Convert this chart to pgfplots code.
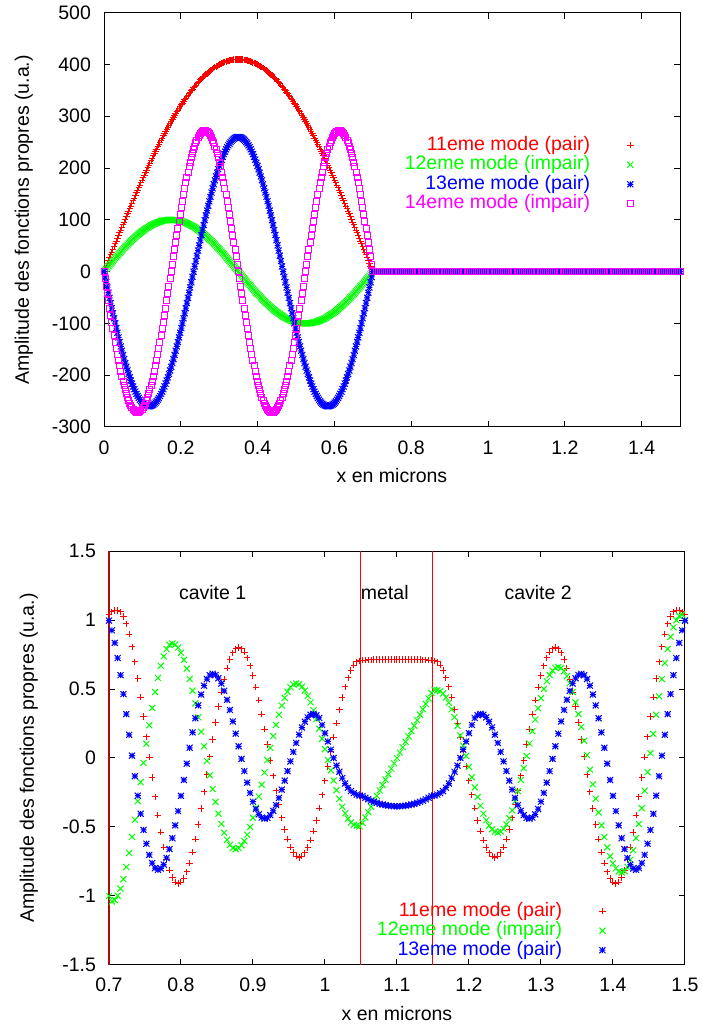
\documentclass[border=0pt]{standalone}
\usepackage{fontspec}
\setmainfont{Liberation Sans}
\usepackage{pgfplots}
\usepackage{pgfplotstable}
\pgfplotsset{compat=1.18}

\definecolor{gpred}{rgb}{1,0,0}
\definecolor{gpgreen}{rgb}{0,1,0}
\definecolor{gpblue}{rgb}{0,0,1}
\definecolor{gpmag}{rgb}{1,0,1}
\definecolor{darkline}{rgb}{0.65,0.05,0.05}

\makeatletter
\def\gpstroke#1{%
  \pgfsyssoftpath@invokecurrentpath
  \pgfsys@invoke{ #1 RG #1 rg S }%
  \pgfsyssoftpath@setcurrentpath\pgfutil@empty}
\pgfdeclareplotmark{rplus}{%
  \pgfpathmoveto{\pgfqpoint{-\pgfplotmarksize}{0pt}}\pgfpathlineto{\pgfqpoint{\pgfplotmarksize}{0pt}}%
  \pgfpathmoveto{\pgfqpoint{0pt}{-\pgfplotmarksize}}\pgfpathlineto{\pgfqpoint{0pt}{\pgfplotmarksize}}%
  \gpstroke{1 0 0}}
\pgfdeclareplotmark{gcross}{%
  \pgfpathmoveto{\pgfqpoint{-\pgfplotmarksize}{-\pgfplotmarksize}}\pgfpathlineto{\pgfqpoint{\pgfplotmarksize}{\pgfplotmarksize}}%
  \pgfpathmoveto{\pgfqpoint{-\pgfplotmarksize}{\pgfplotmarksize}}\pgfpathlineto{\pgfqpoint{\pgfplotmarksize}{-\pgfplotmarksize}}%
  \gpstroke{0 1 0}}
\pgfdeclareplotmark{bstar}{%
  \pgfpathmoveto{\pgfqpoint{-\pgfplotmarksize}{0pt}}\pgfpathlineto{\pgfqpoint{\pgfplotmarksize}{0pt}}%
  \pgfpathmoveto{\pgfqpoint{0pt}{-\pgfplotmarksize}}\pgfpathlineto{\pgfqpoint{0pt}{\pgfplotmarksize}}%
  \pgfpathmoveto{\pgfqpoint{-\pgfplotmarksize}{-\pgfplotmarksize}}\pgfpathlineto{\pgfqpoint{\pgfplotmarksize}{\pgfplotmarksize}}%
  \pgfpathmoveto{\pgfqpoint{-\pgfplotmarksize}{\pgfplotmarksize}}\pgfpathlineto{\pgfqpoint{\pgfplotmarksize}{-\pgfplotmarksize}}%
  \gpstroke{0 0 1}}
\pgfdeclareplotmark{msquare}{%
  \pgfpathrectangle{\pgfqpoint{-\pgfplotmarksize}{-\pgfplotmarksize}}{\pgfqpoint{2\pgfplotmarksize}{2\pgfplotmarksize}}%
  \gpstroke{1 0 1}}
\makeatother

\pgfplotstableread{
x r g b m
0 0 0 0 0
0.0058 10.7 5.2 -20.4 -28.4
0.0117 21.5 10.5 -40.7 -56.6
0.0175 32.2 15.6 -60.7 -84.1
0.0233 42.9 20.8 -80.3 -110.6
0.0292 53.5 25.9 -99.5 -136.0
0.035 64.1 30.9 -118.0 -159.9
0.0408 74.7 35.8 -135.9 -182.0
0.0467 85.2 40.7 -152.8 -202.1
0.0525 95.7 45.4 -168.9 -220.1
0.0583 106.1 50.0 -183.8 -235.6
0.0642 116.4 54.5 -197.7 -248.5
0.07 126.7 58.8 -210.3 -258.7
0.0758 136.9 62.9 -221.7 -266.1
0.0817 146.9 66.9 -231.7 -270.5
0.0875 156.9 70.7 -240.2 -272.0
0.0933 166.8 74.3 -247.3 -270.5
0.0992 176.5 77.7 -252.8 -266.1
0.105 186.1 80.9 -256.8 -258.7
0.1108 195.6 83.9 -259.2 -248.5
0.1167 205.0 86.6 -260.0 -235.6
0.1225 214.2 89.1 -259.2 -220.1
0.1283 223.3 91.4 -256.8 -202.1
0.1342 232.2 93.4 -252.8 -182.0
0.14 241.0 95.1 -247.3 -159.9
0.1458 249.6 96.6 -240.2 -136.0
0.1517 258.0 97.8 -231.7 -110.6
0.1575 266.3 98.8 -221.7 -84.1
0.1633 274.3 99.5 -210.3 -56.6
0.1692 282.2 99.9 -197.7 -28.4
0.175 289.9 100.0 -183.8 0
0.1808 297.4 99.9 -168.9 28.4
0.1867 304.7 99.5 -152.8 56.6
0.1925 311.8 98.8 -135.9 84.1
0.1983 318.6 97.8 -118.0 110.6
0.2042 325.3 96.6 -99.5 136.0
0.21 331.7 95.1 -80.3 159.9
0.2158 337.9 93.4 -60.7 182.0
0.2217 343.9 91.4 -40.7 202.1
0.2275 349.6 89.1 -20.4 220.1
0.2333 355.1 86.6 0 235.6
0.2392 360.3 83.9 20.4 248.5
0.245 365.3 80.9 40.7 258.7
0.2508 370.1 77.7 60.7 266.1
0.2567 374.6 74.3 80.3 270.5
0.2625 378.8 70.7 99.5 272.0
0.2683 382.8 66.9 118.0 270.5
0.2742 386.5 62.9 135.9 266.1
0.28 389.9 58.8 152.8 258.7
0.2858 393.1 54.5 168.9 248.5
0.2917 396.0 50.0 183.8 235.6
0.2975 398.7 45.4 197.7 220.1
0.3033 401.0 40.7 210.3 202.1
0.3092 403.1 35.8 221.7 182.0
0.315 405.0 30.9 231.7 159.9
0.3208 406.5 25.9 240.2 136.0
0.3267 407.8 20.8 247.3 110.6
0.3325 408.7 15.6 252.8 84.1
0.3383 409.4 10.5 256.8 56.6
0.3442 409.9 5.2 259.2 28.4
0.35 410.0 0 260.0 0
0.3558 409.9 -5.2 259.2 -28.4
0.3617 409.4 -10.5 256.8 -56.6
0.3675 408.7 -15.6 252.8 -84.1
0.3733 407.8 -20.8 247.3 -110.6
0.3792 406.5 -25.9 240.2 -136.0
0.385 405.0 -30.9 231.7 -159.9
0.3908 403.1 -35.8 221.7 -182.0
0.3967 401.0 -40.7 210.3 -202.1
0.4025 398.7 -45.4 197.7 -220.1
0.4083 396.0 -50.0 183.8 -235.6
0.4142 393.1 -54.5 168.9 -248.5
0.42 389.9 -58.8 152.8 -258.7
0.4258 386.5 -62.9 135.9 -266.1
0.4317 382.8 -66.9 118.0 -270.5
0.4375 378.8 -70.7 99.5 -272.0
0.4433 374.6 -74.3 80.3 -270.5
0.4492 370.1 -77.7 60.7 -266.1
0.455 365.3 -80.9 40.7 -258.7
0.4608 360.3 -83.9 20.4 -248.5
0.4667 355.1 -86.6 0 -235.6
0.4725 349.6 -89.1 -20.4 -220.1
0.4783 343.9 -91.4 -40.7 -202.1
0.4842 337.9 -93.4 -60.7 -182.0
0.49 331.7 -95.1 -80.3 -159.9
0.4958 325.3 -96.6 -99.5 -136.0
0.5017 318.6 -97.8 -118.0 -110.6
0.5075 311.8 -98.8 -135.9 -84.1
0.5133 304.7 -99.5 -152.8 -56.6
0.5192 297.4 -99.9 -168.9 -28.4
0.525 289.9 -100.0 -183.8 0
0.5308 282.2 -99.9 -197.7 28.4
0.5367 274.3 -99.5 -210.3 56.6
0.5425 266.3 -98.8 -221.7 84.1
0.5483 258.0 -97.8 -231.7 110.6
0.5542 249.6 -96.6 -240.2 136.0
0.56 241.0 -95.1 -247.3 159.9
0.5658 232.2 -93.4 -252.8 182.0
0.5717 223.3 -91.4 -256.8 202.1
0.5775 214.2 -89.1 -259.2 220.1
0.5833 205.0 -86.6 -260.0 235.6
0.5892 195.6 -83.9 -259.2 248.5
0.595 186.1 -80.9 -256.8 258.7
0.6008 176.5 -77.7 -252.8 266.1
0.6067 166.8 -74.3 -247.3 270.5
0.6125 156.9 -70.7 -240.2 272.0
0.6183 146.9 -66.9 -231.7 270.5
0.6242 136.9 -62.9 -221.7 266.1
0.63 126.7 -58.8 -210.3 258.7
0.6358 116.4 -54.5 -197.7 248.5
0.6417 106.1 -50.0 -183.8 235.6
0.6475 95.7 -45.4 -168.9 220.1
0.6533 85.2 -40.7 -152.8 202.1
0.6592 74.7 -35.8 -135.9 182.0
0.665 64.1 -30.9 -118.0 159.9
0.6708 53.5 -25.9 -99.5 136.0
0.6767 42.9 -20.8 -80.3 110.6
0.6825 32.2 -15.6 -60.7 84.1
0.6883 21.5 -10.5 -40.7 56.6
0.6942 10.7 -5.2 -20.4 28.4
0.7 0 0 0 0
0.71 0 0 0 0
0.72 0 0 0 0
0.73 0 0 0 0
0.74 0 0 0 0
0.75 0 0 0 0
0.76 0 0 0 0
0.77 0 0 0 0
0.78 0 0 0 0
0.79 0 0 0 0
0.80 0 0 0 0
0.81 0 0 0 0
0.82 0 0 0 0
0.83 0 0 0 0
0.84 0 0 0 0
0.85 0 0 0 0
0.86 0 0 0 0
0.87 0 0 0 0
0.88 0 0 0 0
0.89 0 0 0 0
0.90 0 0 0 0
0.91 0 0 0 0
0.92 0 0 0 0
0.93 0 0 0 0
0.94 0 0 0 0
0.95 0 0 0 0
0.96 0 0 0 0
0.97 0 0 0 0
0.98 0 0 0 0
0.99 0 0 0 0
1.00 0 0 0 0
1.01 0 0 0 0
1.02 0 0 0 0
1.03 0 0 0 0
1.04 0 0 0 0
1.05 0 0 0 0
1.06 0 0 0 0
1.07 0 0 0 0
1.08 0 0 0 0
1.09 0 0 0 0
1.10 0 0 0 0
1.11 0 0 0 0
1.12 0 0 0 0
1.13 0 0 0 0
1.14 0 0 0 0
1.15 0 0 0 0
1.16 0 0 0 0
1.17 0 0 0 0
1.18 0 0 0 0
1.19 0 0 0 0
1.20 0 0 0 0
1.21 0 0 0 0
1.22 0 0 0 0
1.23 0 0 0 0
1.24 0 0 0 0
1.25 0 0 0 0
1.26 0 0 0 0
1.27 0 0 0 0
1.28 0 0 0 0
1.29 0 0 0 0
1.30 0 0 0 0
1.31 0 0 0 0
1.32 0 0 0 0
1.33 0 0 0 0
1.34 0 0 0 0
1.35 0 0 0 0
1.36 0 0 0 0
1.37 0 0 0 0
1.38 0 0 0 0
1.39 0 0 0 0
1.40 0 0 0 0
1.41 0 0 0 0
1.42 0 0 0 0
1.43 0 0 0 0
1.44 0 0 0 0
1.45 0 0 0 0
1.46 0 0 0 0
1.47 0 0 0 0
1.48 0 0 0 0
1.49 0 0 0 0
1.50 0 0 0 0
}\topdata

\pgfplotstableread{
x r g b m
0.0029 5.4 2.6 -10.2 -14.2
0.0088 16.1 7.8 -30.6 -42.5
0.0146 26.8 13.1 -50.7 -70.4
0.0204 37.5 18.2 -70.6 -97.5
0.0263 48.2 23.3 -90.0 -123.5
0.0321 58.8 28.4 -108.9 -148.1
0.0379 69.4 33.4 -127.0 -171.2
0.0438 80.0 38.3 -144.4 -192.3
0.0496 90.5 43.1 -161.0 -211.4
0.0554 100.9 47.7 -176.5 -228.1
0.0613 111.3 52.3 -190.9 -242.4
0.0671 121.6 56.6 -204.2 -253.9
0.0729 131.8 60.9 -216.2 -262.7
0.0788 141.9 64.9 -226.9 -268.7
0.0846 151.9 68.8 -236.1 -271.6
0.0904 161.8 72.5 -243.9 -271.6
0.0963 171.7 76.0 -250.2 -268.7
0.1021 181.3 79.3 -255.0 -262.7
0.1079 190.9 82.4 -258.2 -253.9
0.1138 200.3 85.3 -259.8 -242.4
0.1196 209.6 87.9 -259.8 -228.1
0.1254 218.8 90.3 -258.2 -211.4
0.1313 227.8 92.4 -255.0 -192.3
0.1371 236.6 94.3 -250.2 -171.2
0.1429 245.3 95.9 -243.9 -148.1
0.1488 253.8 97.2 -236.1 -123.5
0.1546 262.2 98.3 -226.9 -97.5
0.1604 270.3 99.1 -216.2 -70.4
0.1663 278.3 99.7 -204.2 -42.5
0.1721 286.1 100.0 -190.9 -14.2
0.1779 293.7 100.0 -176.5 14.2
0.1838 301.1 99.7 -161.0 42.5
0.1896 308.3 99.1 -144.4 70.4
0.1954 315.2 98.3 -127.0 97.5
0.2013 322.0 97.2 -108.9 123.5
0.2071 328.5 95.9 -90.0 148.1
0.2129 334.8 94.3 -70.6 171.2
0.2188 340.9 92.4 -50.7 192.3
0.2246 346.7 90.3 -30.6 211.4
0.2304 352.4 87.9 -10.2 228.1
0.2363 357.7 85.3 10.2 242.4
0.2421 362.8 82.4 30.6 253.9
0.2479 367.7 79.3 50.7 262.7
0.2538 372.3 76.0 70.6 268.7
0.2596 376.7 72.5 90.0 271.6
0.2654 380.8 68.8 108.9 271.6
0.2713 384.7 64.9 127.0 268.7
0.2771 388.2 60.9 144.4 262.7
0.2829 391.6 56.6 161.0 253.9
0.2888 394.6 52.3 176.5 242.4
0.2946 397.4 47.7 190.9 228.1
0.3004 399.9 43.1 204.2 211.4
0.3063 402.1 38.3 216.2 192.3
0.3121 404.1 33.4 226.9 171.2
0.3179 405.8 28.4 236.1 148.1
0.3238 407.2 23.3 243.9 123.5
0.3296 408.3 18.2 250.2 97.5
0.3354 409.1 13.1 255.0 70.4
0.3413 409.7 7.8 258.2 42.5
0.3471 410.0 2.6 259.8 14.2
0.3529 410.0 -2.6 259.8 -14.2
0.3588 409.7 -7.8 258.2 -42.5
0.3646 409.1 -13.1 255.0 -70.4
0.3704 408.3 -18.2 250.2 -97.5
0.3763 407.2 -23.3 243.9 -123.5
0.3821 405.8 -28.4 236.1 -148.1
0.3879 404.1 -33.4 226.9 -171.2
0.3938 402.1 -38.3 216.2 -192.3
0.3996 399.9 -43.1 204.2 -211.4
0.4054 397.4 -47.7 190.9 -228.1
0.4113 394.6 -52.3 176.5 -242.4
0.4171 391.6 -56.6 161.0 -253.9
0.4229 388.2 -60.9 144.4 -262.7
0.4288 384.7 -64.9 127.0 -268.7
0.4346 380.8 -68.8 108.9 -271.6
0.4404 376.7 -72.5 90.0 -271.6
0.4463 372.3 -76.0 70.6 -268.7
0.4521 367.7 -79.3 50.7 -262.7
0.4579 362.8 -82.4 30.6 -253.9
0.4638 357.7 -85.3 10.2 -242.4
0.4696 352.4 -87.9 -10.2 -228.1
0.4754 346.7 -90.3 -30.6 -211.4
0.4813 340.9 -92.4 -50.7 -192.3
0.4871 334.8 -94.3 -70.6 -171.2
0.4929 328.5 -95.9 -90.0 -148.1
0.4988 322.0 -97.2 -108.9 -123.5
0.5046 315.2 -98.3 -127.0 -97.5
0.5104 308.3 -99.1 -144.4 -70.4
0.5163 301.1 -99.7 -161.0 -42.5
0.5221 293.7 -100.0 -176.5 -14.2
0.5279 286.1 -100.0 -190.9 14.2
0.5338 278.3 -99.7 -204.2 42.5
0.5396 270.3 -99.1 -216.2 70.4
0.5454 262.2 -98.3 -226.9 97.5
0.5513 253.8 -97.2 -236.1 123.5
0.5571 245.3 -95.9 -243.9 148.1
0.5629 236.6 -94.3 -250.2 171.2
0.5688 227.8 -92.4 -255.0 192.3
0.5746 218.8 -90.3 -258.2 211.4
0.5804 209.6 -87.9 -259.8 228.1
0.5863 200.3 -85.3 -259.8 242.4
0.5921 190.9 -82.4 -258.2 253.9
0.5979 181.3 -79.3 -255.0 262.7
0.6038 171.7 -76.0 -250.2 268.7
0.6096 161.8 -72.5 -243.9 271.6
0.6154 151.9 -68.8 -236.1 271.6
0.6213 141.9 -64.9 -226.9 268.7
0.6271 131.8 -60.9 -216.2 262.7
0.6329 121.6 -56.6 -204.2 253.9
0.6388 111.3 -52.3 -190.9 242.4
0.6446 100.9 -47.7 -176.5 228.1
0.6504 90.5 -43.1 -161.0 211.4
0.6563 80.0 -38.3 -144.4 192.3
0.6621 69.4 -33.4 -127.0 171.2
0.6679 58.8 -28.4 -108.9 148.1
0.6738 48.2 -23.3 -90.0 123.5
0.6796 37.5 -18.2 -70.6 97.5
0.6854 26.8 -13.1 -50.7 70.4
0.6913 16.1 -7.8 -30.6 42.5
0.6971 5.4 -2.6 -10.2 14.2
}\tophalf

\pgfplotstableread{
x r g b
0.700 1.04 -1.00 0.995
0.704 1.06 -1.04 0.925
0.708 1.07 -1.030 0.834
0.712 1.07 -0.998 0.724
0.716 1.059 -0.947 0.600
0.720 1.026 -0.878 0.463
0.724 0.972 -0.790 0.318
0.728 0.898 -0.688 0.168
0.732 0.806 -0.572 0.017
0.736 0.697 -0.447 -0.132
0.740 0.575 -0.313 -0.273
0.744 0.442 -0.175 -0.404
0.748 0.300 -0.035 -0.521
0.752 0.154 0.103 -0.621
0.756 0.006 0.237 -0.702
0.760 -0.140 0.363 -0.761
0.764 -0.282 0.478 -0.798
0.768 -0.415 0.580 -0.810
0.772 -0.537 0.668 -0.800
0.776 -0.646 0.737 -0.772
0.780 -0.738 0.789 -0.724
0.784 -0.812 0.820 -0.660
0.788 -0.866 0.830 -0.581
0.792 -0.899 0.822 -0.488
0.796 -0.910 0.800 -0.385
0.800 -0.900 0.763 -0.274
0.804 -0.872 0.712 -0.159
0.808 -0.825 0.648 -0.041
0.812 -0.761 0.573 0.074
0.816 -0.682 0.488 0.185
0.820 -0.588 0.395 0.288
0.824 -0.482 0.295 0.381
0.828 -0.367 0.191 0.460
0.832 -0.245 0.085 0.524
0.836 -0.119 -0.021 0.572
0.840 0.009 -0.125 0.600
0.844 0.135 -0.225 0.610
0.848 0.257 -0.318 0.602
0.852 0.373 -0.403 0.578
0.856 0.478 -0.478 0.540
0.860 0.572 -0.542 0.487
0.864 0.651 -0.593 0.422
0.868 0.715 -0.630 0.348
0.872 0.762 -0.652 0.265
0.876 0.790 -0.660 0.176
0.880 0.800 -0.653 0.085
0.884 0.792 -0.633 -0.006
0.888 0.766 -0.601 -0.095
0.892 0.725 -0.556 -0.178
0.896 0.668 -0.500 -0.253
0.900 0.597 -0.434 -0.317
0.904 0.514 -0.360 -0.370
0.908 0.420 -0.279 -0.408
0.912 0.318 -0.194 -0.432
0.916 0.209 -0.105 -0.440
0.920 0.097 -0.015 -0.434
0.924 -0.017 0.074 -0.414
0.928 -0.129 0.159 -0.383
0.932 -0.238 0.240 -0.341
0.936 -0.340 0.314 -0.289
0.940 -0.434 0.380 -0.229
0.944 -0.517 0.436 -0.164
0.948 -0.588 0.481 -0.095
0.952 -0.645 0.513 -0.025
0.956 -0.686 0.533 0.044
0.960 -0.712 0.540 0.109
0.964 -0.720 0.534 0.169
0.968 -0.712 0.517 0.221
0.972 -0.688 0.489 0.263
0.976 -0.649 0.451 0.294
0.980 -0.596 0.403 0.314
0.984 -0.530 0.346 0.320
0.988 -0.452 0.283 0.310
0.992 -0.364 0.213 0.290
0.996 -0.268 0.140 0.240
1.000 -0.166 0.064 0.180
1.004 -0.061 -0.014 0.120
1.008 0.046 -0.090 0.060
1.012 0.151 -0.163 0.000
1.016 0.253 -0.233 -0.055
1.020 0.349 -0.296 -0.100
1.024 0.437 -0.353 -0.145
1.028 0.515 -0.401 -0.185
1.032 0.581 -0.439 -0.215
1.036 0.634 -0.467 -0.240
1.040 0.673 -0.484 -0.255
1.044 0.697 -0.490 -0.265
1.048 0.705 -0.495 -0.272
1.052 0.708 -0.470 -0.276
1.056 0.710 -0.431 -0.288
1.060 0.711 -0.392 -0.299
1.064 0.712 -0.353 -0.309
1.068 0.713 -0.314 -0.317
1.072 0.713 -0.274 -0.325
1.076 0.714 -0.235 -0.332
1.080 0.714 -0.196 -0.337
1.084 0.715 -0.157 -0.342
1.088 0.715 -0.118 -0.345
1.092 0.715 -0.078 -0.348
1.096 0.715 -0.039 -0.349
1.100 0.715 0.000 -0.350
1.104 0.715 0.039 -0.349
1.108 0.715 0.078 -0.348
1.112 0.715 0.118 -0.345
1.116 0.715 0.157 -0.342
1.120 0.714 0.196 -0.337
1.124 0.714 0.235 -0.332
1.128 0.713 0.274 -0.325
1.132 0.713 0.314 -0.317
1.136 0.712 0.353 -0.309
1.140 0.711 0.392 -0.299
1.144 0.710 0.431 -0.288
1.148 0.708 0.470 -0.276
1.152 0.705 0.495 -0.272
1.156 0.697 0.490 -0.265
1.160 0.673 0.484 -0.255
1.164 0.634 0.467 -0.240
1.168 0.581 0.439 -0.215
1.172 0.515 0.401 -0.185
1.176 0.437 0.353 -0.145
1.180 0.349 0.296 -0.100
1.184 0.253 0.233 -0.055
1.188 0.151 0.163 0.000
1.192 0.046 0.090 0.060
1.196 -0.061 0.014 0.120
1.200 -0.166 -0.064 0.180
1.204 -0.268 -0.140 0.240
1.208 -0.364 -0.213 0.290
1.212 -0.452 -0.283 0.310
1.216 -0.530 -0.346 0.320
1.220 -0.596 -0.403 0.314
1.224 -0.649 -0.451 0.294
1.228 -0.688 -0.489 0.263
1.232 -0.712 -0.517 0.221
1.236 -0.720 -0.534 0.169
1.240 -0.712 -0.540 0.109
1.244 -0.686 -0.533 0.044
1.248 -0.645 -0.513 -0.025
1.252 -0.588 -0.481 -0.095
1.256 -0.517 -0.436 -0.164
1.260 -0.434 -0.380 -0.229
1.264 -0.340 -0.314 -0.289
1.268 -0.238 -0.240 -0.341
1.272 -0.129 -0.159 -0.383
1.276 -0.017 -0.074 -0.414
1.280 0.097 0.015 -0.434
1.284 0.209 0.105 -0.440
1.288 0.318 0.194 -0.432
1.292 0.420 0.279 -0.408
1.296 0.514 0.360 -0.370
1.300 0.597 0.434 -0.317
1.304 0.668 0.500 -0.253
1.308 0.725 0.556 -0.178
1.312 0.766 0.601 -0.095
1.316 0.792 0.633 -0.006
1.320 0.800 0.653 0.085
1.324 0.790 0.660 0.176
1.328 0.762 0.652 0.265
1.332 0.715 0.630 0.348
1.336 0.651 0.593 0.422
1.340 0.572 0.542 0.487
1.344 0.478 0.478 0.540
1.348 0.373 0.403 0.578
1.352 0.257 0.318 0.602
1.356 0.135 0.225 0.610
1.360 0.009 0.125 0.600
1.364 -0.119 0.021 0.572
1.368 -0.245 -0.085 0.524
1.372 -0.367 -0.191 0.460
1.376 -0.482 -0.295 0.381
1.380 -0.588 -0.395 0.288
1.384 -0.682 -0.488 0.185
1.388 -0.761 -0.573 0.074
1.392 -0.825 -0.648 -0.041
1.396 -0.872 -0.712 -0.159
1.400 -0.900 -0.763 -0.274
1.404 -0.910 -0.800 -0.385
1.408 -0.899 -0.822 -0.488
1.412 -0.866 -0.830 -0.581
1.416 -0.812 -0.820 -0.660
1.420 -0.738 -0.789 -0.724
1.424 -0.646 -0.737 -0.772
1.428 -0.537 -0.668 -0.800
1.432 -0.415 -0.580 -0.810
1.436 -0.282 -0.478 -0.798
1.440 -0.140 -0.363 -0.761
1.444 0.006 -0.237 -0.702
1.448 0.154 -0.103 -0.621
1.452 0.300 0.035 -0.521
1.456 0.442 0.175 -0.404
1.460 0.575 0.313 -0.273
1.464 0.697 0.447 -0.132
1.468 0.806 0.572 0.017
1.472 0.898 0.688 0.168
1.476 0.972 0.790 0.318
1.480 1.026 0.878 0.463
1.484 1.059 0.947 0.600
1.488 1.07 0.998 0.724
1.492 1.07 1.030 0.834
1.496 1.06 1.04 0.925
1.500 1.04 1.00 0.995
}\botdata

\pgfplotsset{
  gpaxis/.style={
    scale only axis, width=288pt,
    tick align=inside, major tick length=3pt,
    every tick/.style={black, line width=0.5pt},
    axis line style={line width=0.5pt},
    /pgf/number format/assume math mode=true,
    yticklabel style={xshift=-3pt},
    xlabel={x en microns},
    ylabel={Amplitude des fonctions propres (u.a.)},
    ylabel style={at={(axis description cs:-0.139,0.5)}, anchor=center},
    clip=false,
    legend cell align=right, legend plot pos=right,
  },
  gplegend/.style={draw=none, fill=none, inner sep=0pt, row sep=0pt,
    nodes={inner sep=0pt, text height=7.4pt, text depth=2.4pt},
    /tikz/every odd column/.append style={column sep=18.5pt}},
}

\begin{document}
\begin{tikzpicture}[font=\fontsize{9.75}{11.7}\selectfont]
\path[use as bounding box] (0,0) rectangle (351pt,514pt);

\begin{axis}[gpaxis,
  at={(52pt,300.5pt)}, anchor=south west, height=207.15pt,
  xmin=0, xmax=1.5, ymin=-300, ymax=500,
  xtick={0,0.2,0.4,0.6,0.8,1,1.2,1.4},
  ytick={-300,-200,-100,0,100,200,300,400,500},
  xticklabel style={anchor=base, yshift=-14pt},
  xlabel style={at={(axis description cs:0.5,-0.135)}, anchor=base},
  legend style={gplegend, at={(0.920,0.705)}, anchor=north east},
]
\addplot[only marks, mark=rplus, gpred, line width=0.5pt, mark size=1.6pt] table[x=x,y=r]{\topdata};
\addlegendentry{\textcolor{gpred}{11eme mode (pair)}}
\addplot[only marks, mark=rplus, gpred, line width=0.5pt, mark size=1.6pt, forget plot] table[x=x,y=r]{\tophalf};
\addplot[only marks, mark=gcross, gpgreen, line width=0.5pt, mark size=1.5pt] table[x=x,y=g]{\topdata};
\addlegendentry{\textcolor{gpgreen}{12eme mode (impair)}}
\addplot[only marks, mark=gcross, gpgreen, line width=0.5pt, mark size=1.5pt, forget plot] table[x=x,y=g]{\tophalf};
\addplot[only marks, mark=bstar, gpblue, line width=0.5pt, mark size=1.5pt] table[x=x,y=b]{\topdata};
\addlegendentry{\textcolor{gpblue}{13eme mode (pair)}}
\addplot[only marks, mark=bstar, gpblue, line width=0.5pt, mark size=1.5pt, forget plot] table[x=x,y=b]{\tophalf};
\addplot[only marks, mark=msquare, gpmag, line width=0.5pt, mark size=1.5pt] table[x=x,y=m]{\topdata};
\addlegendentry{\textcolor{gpmag}{14eme mode (impair)}}
\addplot[only marks, mark=msquare, gpmag, line width=0.5pt, mark size=1.5pt, forget plot] table[x=x,y=m]{\tophalf};
\end{axis}

\begin{axis}[gpaxis,
  at={(54.5pt,31.5pt)}, anchor=south west, height=207pt,
  xmin=0.7, xmax=1.5, ymin=-1.5, ymax=1.5,
  xtick={0.7,0.8,0.9,1,1.1,1.2,1.3,1.4,1.5},
  ytick={-1.5,-1,-0.5,0,0.5,1,1.5},
  xticklabel style={anchor=base, yshift=-13.4pt},
  xlabel style={at={(axis description cs:0.5,-0.134)}, anchor=base},
  legend style={gplegend, at={(0.863,0.155)}, anchor=north east},
]
\addplot[only marks, mark=rplus, gpred, line width=0.5pt, mark size=1.6pt] table[x=x,y=r]{\botdata};
\addlegendentry{\textcolor{gpred}{11eme mode (pair)}}
\addplot[only marks, mark=gcross, gpgreen, line width=0.5pt, mark size=1.5pt] table[x=x,y=g]{\botdata};
\addlegendentry{\textcolor{gpgreen}{12eme mode (impair)}}
\addplot[only marks, mark=bstar, gpblue, line width=0.5pt, mark size=1.5pt] table[x=x,y=b]{\botdata};
\addlegendentry{\textcolor{gpblue}{13eme mode (pair)}}
\addplot[forget plot, darkline, line width=0.7pt] coordinates {(0.7,-1.5) (0.7,1.5)};
\addplot[forget plot, gpred, line width=0.5pt] coordinates {(1.05,-1.5) (1.05,1.5)};
\addplot[forget plot, gpred, line width=0.5pt] coordinates {(1.15,-1.5) (1.15,1.5)};
\node at (axis cs:0.844,1.2) {cavite 1};
\node at (axis cs:1.083,1.2) {metal};
\node at (axis cs:1.296,1.2) {cavite 2};
\end{axis}
\end{tikzpicture}
\end{document}
